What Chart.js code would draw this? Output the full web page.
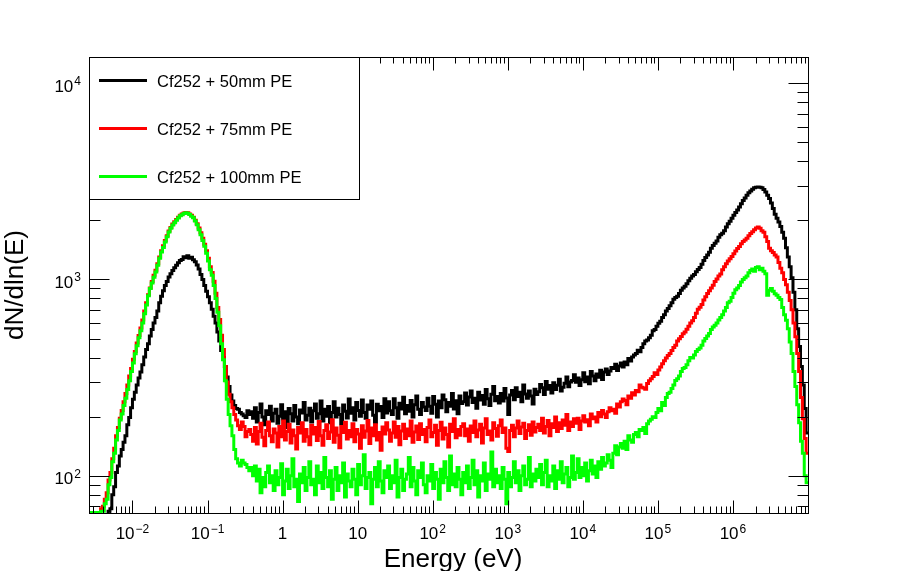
<!DOCTYPE html>
<html><head><meta charset="utf-8">
<script src="https://cdn.jsdelivr.net/npm/chart.js@4.4.1/dist/chart.umd.min.js"></script>
<style>html,body{margin:0;padding:0;background:#fff;overflow:hidden}#wrap{width:898px;height:571px}</style>
</head><body><div id="wrap"><canvas id="c" width="898" height="571" style="width:898px;height:571px"></canvas></div>
<script>
// Bin edges of the histogram, as log10(Energy / eV)
const log10EnergyEdges = [
-2.600,-2.575,-2.550,-2.525,-2.500,-2.475,-2.450,-2.425,-2.400,-2.375,-2.350,-2.325,-2.300,-2.275,-2.250,-2.225,-2.200,-2.175,-2.150,-2.125,
-2.100,-2.075,-2.050,-2.025,-2.000,-1.975,-1.950,-1.925,-1.900,-1.875,-1.850,-1.825,-1.800,-1.775,-1.750,-1.725,-1.700,-1.675,-1.650,-1.625,
-1.600,-1.575,-1.550,-1.525,-1.500,-1.475,-1.450,-1.425,-1.400,-1.375,-1.350,-1.325,-1.300,-1.275,-1.250,-1.225,-1.200,-1.175,-1.150,-1.125,
-1.100,-1.075,-1.050,-1.025,-1.000,-0.975,-0.950,-0.925,-0.900,-0.875,-0.850,-0.825,-0.800,-0.775,-0.750,-0.725,-0.700,-0.675,-0.650,-0.625,
-0.600,-0.575,-0.550,-0.525,-0.500,-0.475,-0.450,-0.425,-0.400,-0.375,-0.350,-0.325,-0.300,-0.275,-0.250,-0.225,-0.200,-0.175,-0.150,-0.125,
-0.100,-0.075,-0.050,-0.025,0.000,0.025,0.050,0.075,0.100,0.125,0.150,0.175,0.200,0.225,0.250,0.275,0.300,0.325,0.350,0.375,
0.400,0.425,0.450,0.475,0.500,0.525,0.550,0.575,0.600,0.625,0.650,0.675,0.700,0.725,0.750,0.775,0.800,0.825,0.850,0.875,
0.900,0.925,0.950,0.975,1.000,1.025,1.050,1.075,1.100,1.125,1.150,1.175,1.200,1.225,1.250,1.275,1.300,1.325,1.350,1.375,
1.400,1.425,1.450,1.475,1.500,1.525,1.550,1.575,1.600,1.625,1.650,1.675,1.700,1.725,1.750,1.775,1.800,1.825,1.850,1.875,
1.900,1.925,1.950,1.975,2.000,2.025,2.050,2.075,2.100,2.125,2.150,2.175,2.200,2.225,2.250,2.275,2.300,2.325,2.350,2.375,
2.400,2.425,2.450,2.475,2.500,2.525,2.550,2.575,2.600,2.625,2.650,2.675,2.700,2.725,2.750,2.775,2.800,2.825,2.850,2.875,
2.900,2.925,2.950,2.975,3.000,3.025,3.050,3.075,3.100,3.125,3.150,3.175,3.200,3.225,3.250,3.275,3.300,3.325,3.350,3.375,
3.400,3.425,3.450,3.475,3.500,3.525,3.550,3.575,3.600,3.625,3.650,3.675,3.700,3.725,3.750,3.775,3.800,3.825,3.850,3.875,
3.900,3.925,3.950,3.975,4.000,4.025,4.050,4.075,4.100,4.125,4.150,4.175,4.200,4.225,4.250,4.275,4.300,4.325,4.350,4.375,
4.400,4.425,4.450,4.475,4.500,4.525,4.550,4.575,4.600,4.625,4.650,4.675,4.700,4.725,4.750,4.775,4.800,4.825,4.850,4.875,
4.900,4.925,4.950,4.975,5.000,5.025,5.050,5.075,5.100,5.125,5.150,5.175,5.200,5.225,5.250,5.275,5.300,5.325,5.350,5.375,
5.400,5.425,5.450,5.475,5.500,5.525,5.550,5.575,5.600,5.625,5.650,5.675,5.700,5.725,5.750,5.775,5.800,5.825,5.850,5.875,
5.900,5.925,5.950,5.975,6.000,6.025,6.050,6.075,6.100,6.125,6.150,6.175,6.200,6.225,6.250,6.275,6.300,6.325,6.350,6.375,
6.400,6.425,6.450,6.475,6.500,6.525,6.550,6.575,6.600,6.625,6.650,6.675,6.700,6.725,6.750,6.775,6.800,6.825,6.850,6.875,
6.900,6.925,6.950,6.975,7.000];

const seriesLabels = ['Cf252 + 50mm PE', 'Cf252 + 75mm PE', 'Cf252 + 100mm PE'];
const seriesColors = ['#000000', '#ff0000', '#00ff00'];

// dN/dln(E) per bin
const pe50 = [
50,50,50,50,50,50,50,52,54,58,60,66,68,80,88,104,112,126,136,148,
160,182,198,222,245,266,290,315,338,368,402,440,470,515,556,600,640,690,760,820,
875,930,975,1030,1070,1110,1145,1180,1215,1250,1262,1305,1290,1320,1280,1298,1260,1230,1185,1130,
1060,1000,930,870,815,760,705,650,600,540,485,435,400,360,318,285,258,240,228,220,
218,210,206,202,198,214,205,212,196,222,188,210,232,199,182,214,205,226,190,208,
218,185,201,230,194,212,176,220,207,190,228,199,184,216,209,236,192,203,221,188,
214,232,196,207,240,190,218,201,225,186,210,238,199,221,205,184,229,213,197,246,
208,222,192,236,215,201,243,210,196,229,218,240,203,186,231,214,225,198,247,209,
238,214,205,247,222,196,234,219,251,207,228,213,242,199,230,255,218,205,236,224,
215,248,226,208,253,231,199,240,222,258,244,212,236,226,262,219,241,207,255,233,
238,264,229,252,270,236,248,221,266,243,256,231,275,247,228,260,285,241,253,235,
262,240,278,249,205,258,272,244,281,253,266,238,290,261,248,270,255,232,276,259,
268,292,281,259,302,276,288,264,298,275,289,310,270,282,296,318,284,300,306,327,
299,315,288,308,335,301,318,294,340,322,305,330,317,345,309,338,350,328,342,356,
352,370,344,362,375,358,380,368,396,384,402,412,420,436,428,450,470,486,492,505,
520,548,556,578,598,612,640,660,690,712,735,760,792,810,820,848,880,905,922,950,
985,1015,1040,1060,1095,1125,1150,1195,1250,1295,1330,1375,1440,1490,1530,1570,1640,1690,1720,1770,
1850,1920,1980,2050,2120,2190,2260,2340,2430,2520,2600,2680,2760,2820,2880,2930,2945,2960,2950,2930,
2870,2790,2680,2580,2450,2300,2150,2050,1960,1860,1740,1620,1450,1300,1160,1020,860,700,560,455,
360,290,220,165];

const pe75 = [
58,60,61,62,63,64,65,68,70,76,82,95,104,122,138,160,176,196,215,238,
262,290,322,352,392,430,475,518,565,622,690,760,835,905,975,1050,1115,1200,1300,1400,
1485,1580,1670,1765,1840,1915,1965,2020,2075,2125,2155,2180,2195,2185,2155,2120,2075,2000,1920,1830,
1730,1620,1510,1400,1280,1160,1085,980,850,720,625,520,440,360,300,260,238,222,205,192,
180,172,188,178,158,168,172,162,150,176,145,168,185,157,142,170,188,160,149,173,
165,140,178,158,190,152,168,183,147,171,160,137,176,165,186,150,172,158,144,181,
163,176,151,189,160,143,170,182,155,167,193,148,175,161,139,178,166,187,154,170,
158,184,149,172,163,138,180,157,169,191,146,175,160,182,152,166,135,177,163,186,
171,150,165,188,157,178,144,169,183,155,173,160,190,148,167,179,153,184,162,172,
149,176,192,158,166,181,143,170,187,154,175,162,140,183,168,195,156,172,161,178,
184,160,173,150,179,166,190,158,171,183,147,175,195,162,169,152,186,174,159,180,
192,166,175,138,133,170,181,158,175,190,164,177,185,155,170,182,161,188,167,176,
183,170,196,165,178,191,160,184,176,199,168,186,174,192,181,205,170,188,178,195,
185,196,172,190,202,188,193,180,206,195,199,188,210,200,215,206,198,212,222,214,
218,208,232,224,238,246,242,230,255,248,265,258,272,268,290,282,280,276,295,305,
312,320,335,328,346,358,372,385,398,410,420,435,450,462,485,498,512,528,540,558,
578,600,615,640,672,705,722,745,785,815,848,875,905,935,975,1005,1040,1065,1120,1160,
1200,1240,1275,1310,1350,1395,1435,1470,1520,1560,1590,1620,1670,1715,1750,1790,1830,1850,1820,1770,
1740,1650,1560,1440,1400,1370,1330,1300,1220,1140,1080,1000,940,860,780,700,600,510,420,340,
250,195,155,130];

const pe100 = [
65,65,65,65,65,65,65,66,66,72,76,90,98,118,130,152,170,192,206,228,
248,275,305,340,375,418,460,505,548,600,668,740,825,900,960,1025,1090,1180,1280,1380,
1455,1550,1650,1745,1820,1895,1945,2000,2055,2110,2135,2165,2185,2170,2140,2095,2060,1985,1900,1790,
1690,1580,1475,1360,1240,1120,1050,930,800,680,580,470,390,305,245,205,180,160,136,122,
116,112,120,116,114,110,106,110,100,112,94,108,82,98,88,104,112,92,100,84,
106,90,98,115,80,94,108,86,100,122,88,96,74,102,92,110,84,98,118,90,
96,80,112,92,104,86,124,98,88,106,76,96,110,84,100,92,116,78,102,94,
88,108,96,80,114,90,100,128,86,98,104,72,96,110,88,118,94,82,106,98,
112,86,100,92,120,78,98,108,84,96,102,124,88,110,94,80,106,98,116,90,
82,100,94,114,86,104,96,76,108,92,118,98,84,126,90,102,88,110,96,80,
104,92,112,86,98,120,90,106,78,100,94,116,84,102,96,132,88,108,92,100,
86,110,96,72,104,88,98,118,92,106,84,100,112,90,96,124,88,102,94,108,
98,114,90,104,120,88,100,94,112,86,106,96,118,92,102,110,88,98,126,96,
104,122,98,110,100,116,94,106,120,102,112,98,118,108,124,112,116,128,120,110,
130,142,128,140,146,138,150,136,160,152,148,162,166,158,172,170,176,164,184,190,
194,200,198,210,220,214,236,228,250,262,266,278,290,306,312,322,340,352,356,368,
385,400,398,412,430,440,448,462,485,500,515,530,555,572,585,600,622,640,660,690,
720,760,775,810,850,885,905,930,970,1000,1020,1040,1080,1110,1130,1100,1150,1160,1120,1140,
1100,1070,830,880,900,870,845,830,810,790,720,660,620,560,480,420,340,285,230,186,
150,130,100,92];

// Axis ranges and tick label exponents
const xRange = [0.002636, 1.0e7];
const yRange = [64.6, 13580];
const xTickExponents = [-2, -1, 0, 1, 2, 3, 4, 5, 6];
const yTickExponents = [2, 3, 4];
const xTitle = 'Energy (eV)';
const yTitle = 'dN/dln(E)';

function histPoints(values) {
  const pts = values.map((v, i) => ({ x: Math.pow(10, log10EnergyEdges[i]), y: v }));
  pts.push({ x: Math.pow(10, log10EnergyEdges[values.length]), y: values[values.length - 1] });
  return pts;
}

const FONT = '"Liberation Sans", Arial, Helvetica, sans-serif';

function powLabel(ctx, exp, x, baseY, align) {
  let main, sup = null;
  if (exp === 0) main = '1';
  else if (exp === 1) main = '10';
  else { main = '10'; sup = exp < 0 ? '\u2212' + (-exp) : String(exp); }
  ctx.font = '17px ' + FONT;
  const w1 = ctx.measureText(main).width;
  let w2 = 0;
  if (sup) { ctx.font = '12px ' + FONT; w2 = ctx.measureText(sup).width + 1; }
  const total = w1 + w2;
  const start = align === 'center' ? x - total / 2 : x - total;
  ctx.textAlign = 'left';
  ctx.textBaseline = 'alphabetic';
  ctx.font = '17px ' + FONT;
  ctx.fillText(main, start, baseY);
  if (sup) { ctx.font = '12px ' + FONT; ctx.fillText(sup, start + w1 + 1, baseY - 6.5); }
}

const rootFrame = {
  id: 'rootFrame',
  afterDatasetsDraw(chart) {
    const { ctx, chartArea: a, scales } = chart;
    const xs = scales.x, ys = scales.y;
    ctx.save();
    ctx.strokeStyle = '#000';
    ctx.fillStyle = '#000';
    ctx.lineWidth = 1;
    const L = Math.round(a.left) + 0.5, R = Math.round(a.right) + 0.5;
    const T = Math.round(a.top) + 0.5, B = Math.round(a.bottom) + 0.5;
    ctx.beginPath();
    for (let e = -3; e <= 7; e++) {
      for (let m = 1; m <= 9; m++) {
        const v = m * Math.pow(10, e);
        if (v < xs.min * 0.999 || v > xs.max * 1.001) continue;
        const px = Math.round(xs.getPixelForValue(v)) + 0.5;
        const len = m === 1 ? 13 : 7;
        ctx.moveTo(px, B); ctx.lineTo(px, B - len);
        ctx.moveTo(px, T); ctx.lineTo(px, T + (m === 1 ? 13 : 6));
      }
    }
    for (let e = 1; e <= 5; e++) {
      for (let m = 1; m <= 9; m++) {
        const v = m * Math.pow(10, e);
        if (v < ys.min || v > ys.max) continue;
        const py = Math.round(ys.getPixelForValue(v)) + 0.5;
        const len = m === 1 ? 20 : 11;
        ctx.moveTo(L, py); ctx.lineTo(L + len, py);
        ctx.moveTo(R, py); ctx.lineTo(R - len, py);
      }
    }
    ctx.stroke();
    ctx.strokeRect(L, T, R - L, B - T);

    xTickExponents.forEach(e => {
      const px = xs.getPixelForValue(Math.pow(10, e));
      powLabel(ctx, e, px, 539, 'center');
    });
    yTickExponents.forEach(e => {
      const py = ys.getPixelForValue(Math.pow(10, e));
      powLabel(ctx, e, a.left - 8, py + 8.5, 'right');
    });

    ctx.font = '26px ' + FONT;
    ctx.textAlign = 'center';
    ctx.textBaseline = 'alphabetic';
    ctx.fillText(xTitle, 453, 567);
    ctx.save();
    ctx.translate(23, (a.top + a.bottom) / 2);
    ctx.rotate(-Math.PI / 2);
    ctx.fillText(yTitle, 0, 0);
    ctx.restore();

    const lx = L, ly = T, lw = 270, lh = 142;
    ctx.fillStyle = '#fff';
    ctx.fillRect(lx, ly, lw, lh);
    ctx.strokeStyle = '#000';
    ctx.lineWidth = 1;
    ctx.strokeRect(lx, ly, lw, lh);
    const rowsY = [80.5, 128.5, 176.5];
    chart.data.datasets.forEach((ds, i) => {
      const yy = rowsY[i];
      ctx.strokeStyle = ds.borderColor;
      ctx.lineWidth = 3;
      ctx.beginPath();
      ctx.moveTo(99, yy); ctx.lineTo(147, yy);
      ctx.stroke();
      ctx.fillStyle = '#000';
      ctx.font = '16.5px ' + FONT;
      ctx.textAlign = 'left';
      ctx.textBaseline = 'alphabetic';
      ctx.fillText(ds.label, 157, yy + 6);
    });
    ctx.restore();
  }
};

new Chart(document.getElementById('c').getContext('2d'), {
  type: 'line',
  data: {
    datasets: [
      { label: seriesLabels[0], data: histPoints(pe50), borderColor: seriesColors[0], order: 3 },
      { label: seriesLabels[1], data: histPoints(pe75), borderColor: seriesColors[1], order: 2 },
      { label: seriesLabels[2], data: histPoints(pe100), borderColor: seriesColors[2], order: 1 }
    ]
  },
  options: {
    responsive: false,
    animation: false,
    devicePixelRatio: 1,
    layout: { padding: { left: 89, right: 90, top: 57, bottom: 58 } },
    elements: {
      line: { borderWidth: 3, stepped: true, tension: 0, fill: false, borderCapStyle: 'butt', borderJoinStyle: 'miter' },
      point: { radius: 0, hoverRadius: 0 }
    },
    plugins: { legend: { display: false }, tooltip: { enabled: false } },
    scales: {
      x: { type: 'logarithmic', min: xRange[0], max: xRange[1], display: false },
      y: { type: 'logarithmic', min: yRange[0], max: yRange[1], display: false }
    }
  },
  plugins: [rootFrame]
});
</script>
</body></html>
